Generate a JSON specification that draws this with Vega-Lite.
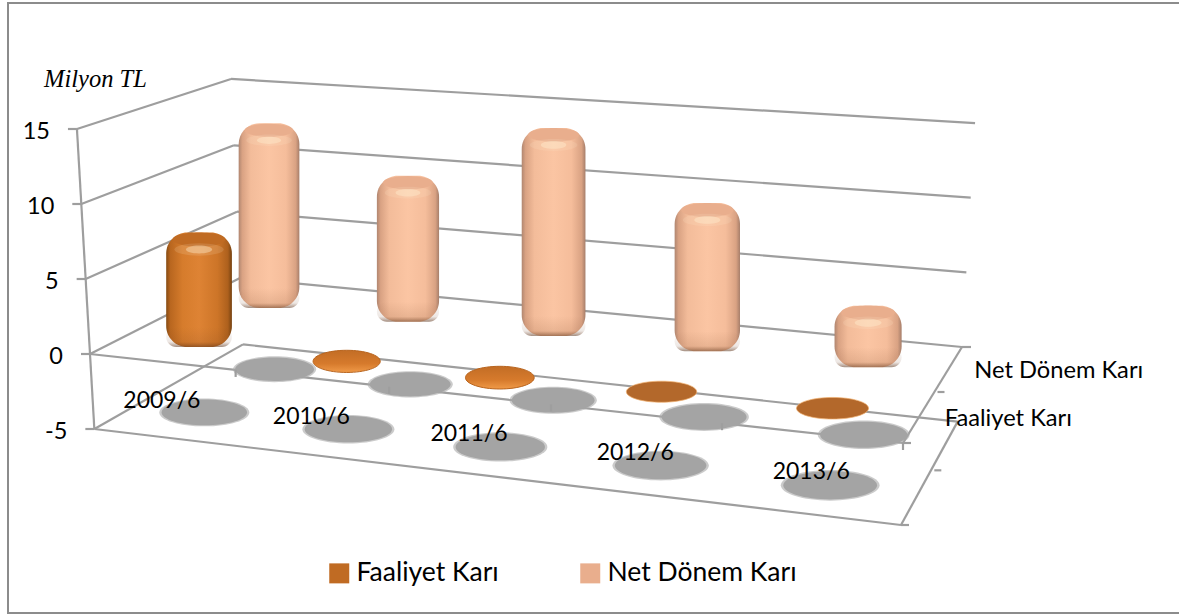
{
"$schema":"https://vega.github.io/schema/vega-lite/v6.json",
"width":1172,"height":610,
"padding":{"left":8,"top":3,"right":-1,"bottom":1},
"autosize":{"type":"none"},
"background":"white",
"view":{"stroke":"#8c8c8c","strokeWidth":2,"fill":"white"},
"title":{"text":"Milyon TL","anchor":"start","frame":"group","orient":"top","offset":-89,"dx":36,"font":"Liberation Serif","fontStyle":"italic","fontWeight":"normal","fontSize":24.5,"color":"#000000"},
"datasets":{
"bars":[
{"period":"2009/6","series":"Faaliyet Karı","value":6.8},
{"period":"2010/6","series":"Faaliyet Karı","value":0.0},
{"period":"2011/6","series":"Faaliyet Karı","value":0.0},
{"period":"2012/6","series":"Faaliyet Karı","value":0.2},
{"period":"2013/6","series":"Faaliyet Karı","value":0.3},
{"period":"2009/6","series":"Net Dönem Karı","value":12.3},
{"period":"2010/6","series":"Net Dönem Karı","value":9.3},
{"period":"2011/6","series":"Net Dönem Karı","value":13.4},
{"period":"2012/6","series":"Net Dönem Karı","value":9.05},
{"period":"2013/6","series":"Net Dönem Karı","value":3.1}
],
"levels":[{"level":15},{"level":10},{"level":5},{"level":0},{"level":-5}]
},
"encoding":{
"x":{"field":"X","type":"quantitative","scale":{"domain":[8,1180]},"axis":null},
"y":{"field":"Y","type":"quantitative","scale":{"domain":[613,3]},"axis":null}
},
"layer":[
{"data":{"name":"levels"},
"layer":[
{"transform":[{"calculate":"90-0.87*datum.level","as":"X"},{"calculate":"354-15*datum.level","as":"Y"},{"calculate":"240-0.6*datum.level","as":"X2"},{"calculate":"278-13.27*datum.level","as":"Y2"}],
"mark":{"type":"rule","stroke":"#9e9e9e","strokeWidth":2.2},"encoding":{"x2":{"field":"X2"},"y2":{"field":"Y2"}}},
{"transform":[{"calculate":"240-0.6*datum.level","as":"X"},{"calculate":"278-13.27*datum.level","as":"Y"},{"calculate":"962+0.87*datum.level","as":"X2"},{"calculate":"347-14.93*datum.level","as":"Y2"}],
"mark":{"type":"rule","stroke":"#9e9e9e","strokeWidth":2.2},"encoding":{"x2":{"field":"X2"},"y2":{"field":"Y2"}}},
{"transform":[{"filter":"datum.level<15"},{"calculate":"90-0.87*datum.level","as":"X"},{"calculate":"354-15*datum.level","as":"Y"},{"calculate":"90-0.87*(datum.level+5)","as":"X2"},{"calculate":"354-15*(datum.level+5)","as":"Y2"}],
"mark":{"type":"rule","stroke":"#9e9e9e","strokeWidth":2.2},"encoding":{"x2":{"field":"X2"},"y2":{"field":"Y2"}}},
{"transform":[{"filter":"datum.level<=0"},{"calculate":"90-0.87*datum.level","as":"X"},{"calculate":"354-15*datum.level","as":"Y"},{"calculate":"903+0.4*datum.level","as":"X2"},{"calculate":"443-16.4*datum.level","as":"Y2"}],
"mark":{"type":"rule","stroke":"#9e9e9e","strokeWidth":2.2},"encoding":{"x2":{"field":"X2"},"y2":{"field":"Y2"}}},
{"transform":[{"filter":"datum.level<=0"},{"calculate":"903+0.4*datum.level","as":"X"},{"calculate":"443-16.4*datum.level","as":"Y"},{"calculate":"962+0.87*datum.level","as":"X2"},{"calculate":"347-14.93*datum.level","as":"Y2"}],
"mark":{"type":"rule","stroke":"#9e9e9e","strokeWidth":2.2},"encoding":{"x2":{"field":"X2"},"y2":{"field":"Y2"}}},
{"transform":[{"calculate":"90-0.87*datum.level","as":"X"},{"calculate":"354-15*datum.level","as":"Y"},{"calculate":"datum.X-9","as":"X2"},{"calculate":"datum.Y","as":"Y2"}],
"mark":{"type":"rule","stroke":"#9e9e9e","strokeWidth":2.2},"encoding":{"x2":{"field":"X2"},"y2":{"field":"Y2"}}},
{"transform":[{"filter":"datum.level<=0"},{"calculate":"903+0.4*datum.level","as":"X"},{"calculate":"443-16.4*datum.level","as":"Y"},{"calculate":"datum.X+8","as":"X2"},{"calculate":"datum.Y","as":"Y2"}],
"mark":{"type":"rule","stroke":"#9e9e9e","strokeWidth":2.2},"encoding":{"x2":{"field":"X2"},"y2":{"field":"Y2"}}},
{"transform":[{"filter":"datum.level<=0"},{"calculate":"(903+962)/2+(0.4+0.87)/2*datum.level+5","as":"X"},{"calculate":"(443+347)/2-(16.4+14.93)/2*datum.level-3","as":"Y"},{"calculate":"datum.X+7","as":"X2"},{"calculate":"datum.Y","as":"Y2"}],
"mark":{"type":"rule","stroke":"#9e9e9e","strokeWidth":2.2},"encoding":{"x2":{"field":"X2"},"y2":{"field":"Y2"}}},
{"transform":[{"filter":"datum.level==0"},{"calculate":"962","as":"X"},{"calculate":"347","as":"Y"},{"calculate":"971","as":"X2"},{"calculate":"347","as":"Y2"}],
"mark":{"type":"rule","stroke":"#9e9e9e","strokeWidth":2.2},"encoding":{"x2":{"field":"X2"},"y2":{"field":"Y2"}}}
]},
{"data":{"name":"bars"},
"transform":[
{"calculate":"indexof(['2009/6','2010/6','2011/6','2012/6','2013/6'],datum.period)","as":"i"},
{"calculate":"(datum.i+0.5)/5","as":"t"},
{"calculate":"datum.t*0.873/(1-0.127*datum.t)","as":"p"},
{"calculate":"datum.series==='Net Dönem Karı'?0.75:0.25","as":"d"},
{"calculate":"(1-datum.d)*((1-datum.p)*90+datum.p*903)+datum.d*((1-datum.p)*240+datum.p*962)","as":"x0"},
{"calculate":"(1-datum.d)*((1-datum.p)*-0.87+datum.p*0.4)+datum.d*((1-datum.p)*-0.6+datum.p*0.87)","as":"xs"},
{"calculate":"(1-datum.d)*((1-datum.p)*354+datum.p*443)+datum.d*((1-datum.p)*278+datum.p*347)","as":"y0"},
{"calculate":"(1-datum.d)*((1-datum.p)*-15+datum.p*-16.4)+datum.d*((1-datum.p)*-13.27+datum.p*-14.93)","as":"ys"},
{"calculate":"60+8*datum.p+10*(0.75-datum.d)","as":"w"},
{"calculate":"datum.x0+4+datum.xs*datum.value/2","as":"cx"},
{"calculate":"datum.y0+datum.ys*datum.value-10","as":"top"},
{"calculate":"datum.y0+4.5","as":"bot"}
],
"layer":[
{"transform":[{"calculate":"datum.x0+3.5-5*datum.xs","as":"X"},{"calculate":"datum.y0-5*datum.ys-3.5","as":"Y"},{"calculate":"pow(datum.w*1.37,2)","as":"sz"}],
"mark":{"type":"point","filled":true,"strokeWidth":0,"opacity":0.6,"fill":"#a8a8a8","shape":"M-1,0A1,0.31 0 1,1 1,0A1,0.31 0 1,1 -1,0Z"},
"encoding":{"size":{"field":"sz","type":"quantitative","scale":null}}},
{"transform":[{"calculate":"datum.x0+3.5-5*datum.xs","as":"X"},{"calculate":"datum.y0-5*datum.ys-3.5","as":"Y"},{"calculate":"pow(datum.w*1.3,2)","as":"sz"}],
"mark":{"type":"point","filled":true,"strokeWidth":0,"opacity":1,"fill":"#a4a4a4","shape":"M-1,0A1,0.3 0 1,1 1,0A1,0.3 0 1,1 -1,0Z"},
"encoding":{"size":{"field":"sz","type":"quantitative","scale":null}}},
{"transform":[{"filter":"datum.value>=1&&datum.series==='Net Dönem Karı'"},{"calculate":"datum.cx-datum.w/2","as":"X"},{"calculate":"datum.cx+datum.w/2","as":"X2"},{"calculate":"datum.top","as":"Y"},{"calculate":"datum.bot","as":"Y2"}],
"mark":{"type":"rect","cornerRadius":21,"fill":{"gradient":"linear","x1":0,"y1":0,"x2":1,"y2":0,"stops":[{"offset":0,"color":"#b08670"},{"offset":0.06,"color":"#d9a283"},{"offset":0.2,"color":"#f3bc9a"},{"offset":0.5,"color":"#fbc5a3"},{"offset":0.78,"color":"#f5bd9b"},{"offset":0.94,"color":"#d9a283"},{"offset":1,"color":"#a67e6a"}]}},
"encoding":{"x2":{"field":"X2"},"y2":{"field":"Y2"}}},
{"transform":[{"filter":"datum.value>=1&&datum.series==='Faaliyet Karı'"},{"calculate":"datum.cx-datum.w/2","as":"X"},{"calculate":"datum.cx+datum.w/2","as":"X2"},{"calculate":"datum.top","as":"Y"},{"calculate":"datum.bot","as":"Y2"}],
"mark":{"type":"rect","cornerRadius":21,"fill":{"gradient":"linear","x1":0,"y1":0,"x2":1,"y2":0,"stops":[{"offset":0,"color":"#854a12"},{"offset":0.06,"color":"#b8661f"},{"offset":0.25,"color":"#d67c2c"},{"offset":0.5,"color":"#de8334"},{"offset":0.78,"color":"#cd7528"},{"offset":0.94,"color":"#ad601d"},{"offset":1,"color":"#754110"}]}},
"encoding":{"x2":{"field":"X2"},"y2":{"field":"Y2"}}},
{"transform":[{"filter":"datum.value>=1"},{"calculate":"datum.cx-datum.w/2","as":"X"},{"calculate":"datum.cx+datum.w/2","as":"X2"},{"calculate":"datum.bot-20","as":"Y"},{"calculate":"datum.bot","as":"Y2"}],
"mark":{"type":"rect","cornerRadius":20,"fill":{"gradient":"linear","x1":0,"y1":0,"x2":0,"y2":1,"stops":[{"offset":0,"color":"rgba(110,60,30,0)"},{"offset":0.75,"color":"rgba(110,60,30,0.12)"},{"offset":1,"color":"rgba(90,50,25,0.55)"}]}},
"encoding":{"x2":{"field":"X2"},"y2":{"field":"Y2"}}},
{"transform":[{"filter":"datum.value>=1"},{"calculate":"datum.cx","as":"X"},{"calculate":"datum.top+7","as":"Y"},{"calculate":"pow(datum.w*0.8,2)","as":"sz"}],
"mark":{"type":"point","filled":true,"strokeWidth":0,"opacity":1,"shape":"M-1,0A1,0.27 0 1,1 1,0A1,0.27 0 1,1 -1,0Z"},
"encoding":{"size":{"field":"sz","type":"quantitative","scale":null},
"color":{"field":"series","type":"nominal","scale":{"domain":["Faaliyet Karı","Net Dönem Karı"],"range":["#c06b23","#e9ae8d"]},
"legend":{"orient":"none","legendX":318,"legendY":557,"direction":"horizontal","title":null,"symbolType":"square","symbolSize":400,"symbolStrokeWidth":0,"labelFont":"Lato","labelFontSize":26.5,"labelLimit":300,"labelColor":"#000000","labelOffset":4,"columnPadding":78,"rowPadding":0}}}},
{"transform":[{"filter":"datum.value>=1"},{"calculate":"datum.cx","as":"X"},{"calculate":"datum.top+17","as":"Y"},{"calculate":"pow(datum.w*0.75,2)","as":"sz"}],
"mark":{"type":"point","filled":true,"strokeWidth":0,"opacity":0.14,"fill":"#fff0d2","shape":"M-1,0A1,0.25 0 1,1 1,0A1,0.25 0 1,1 -1,0Z"},
"encoding":{"size":{"field":"sz","type":"quantitative","scale":null}}},
{"transform":[{"filter":"datum.value>=1"},{"calculate":"datum.cx","as":"X"},{"calculate":"datum.top+17","as":"Y"},{"calculate":"pow(datum.w*0.4,2)","as":"sz"}],
"mark":{"type":"point","filled":true,"strokeWidth":0,"opacity":0.4,"fill":"#fff0d2","shape":"M-1,0A1,0.3 0 1,1 1,0A1,0.3 0 1,1 -1,0Z"},
"encoding":{"size":{"field":"sz","type":"quantitative","scale":null}}},
{"transform":[{"filter":"datum.value<0.1"},{"calculate":"datum.x0+4","as":"X"},{"calculate":"datum.y0+datum.ys*datum.value+3.5","as":"Y"},{"calculate":"pow(datum.w,2)","as":"sz"}],
"mark":{"type":"point","filled":true,"stroke":"#b8641e","strokeWidth":1,"opacity":1,"shape":"M-1,0A1,0.33 0 1,1 1,0A1,0.33 0 1,1 -1,0Z","fill":{"gradient":"linear","x1":0,"y1":0,"x2":0,"y2":1,"stops":[{"offset":0,"color":"#c26d25"},{"offset":0.6,"color":"#d67a2c"},{"offset":1,"color":"#f09a48"}]}},
"encoding":{"size":{"field":"sz","type":"quantitative","scale":null}}},
{"transform":[{"filter":"datum.value>=0.1&&datum.value<1"},{"calculate":"datum.x0+4","as":"X"},{"calculate":"datum.y0+datum.ys*datum.value+3.5","as":"Y"},{"calculate":"pow(datum.w,2)","as":"sz"}],
"mark":{"type":"point","filled":true,"stroke":"#f0b070","strokeWidth":0.7,"opacity":1,"fill":"#b3682b","shape":"M-1,0A1,0.3 0 1,1 1,0A1,0.3 0 1,1 -1,0Z"},
"encoding":{"size":{"field":"sz","type":"quantitative","scale":null}}},
{"transform":[{"filter":"datum.series==='Faaliyet Karı'"},{"calculate":"(datum.i+1)/5","as":"t2"},{"calculate":"datum.t2*0.873/(1-0.127*datum.t2)","as":"p2"},{"calculate":"90+813*datum.p2","as":"X"},{"calculate":"354+89*datum.p2","as":"Y"},{"calculate":"datum.X","as":"X2"},{"calculate":"datum.Y+7","as":"Y2"}],
"mark":{"type":"rule","stroke":"#9e9e9e","strokeWidth":2.2},"encoding":{"x2":{"field":"X2"},"y2":{"field":"Y2"}}},
{"transform":[{"filter":"datum.series==='Faaliyet Karı'"},{"calculate":"90+813*datum.p","as":"X"},{"calculate":"354+89*datum.p+39","as":"Y"}],
"mark":{"type":"text","font":"Lato","fontSize":23,"fill":"#000000","align":"center","baseline":"middle"},
"encoding":{"text":{"field":"period","type":"nominal"}}}
]},
{"data":{"name":"levels"},
"transform":[{"calculate":"90-0.87*datum.level-27","as":"X"},{"calculate":"354-15*datum.level+3","as":"Y"},{"calculate":"''+datum.level","as":"label"}],
"mark":{"type":"text","font":"Lato","fontSize":23.5,"fill":"#000000","align":"right","baseline":"middle"},
"encoding":{"text":{"field":"label","type":"nominal"}}},
{"data":{"values":[{"s":"Net Dönem Karı","d":0.75},{"s":"Faaliyet Karı","d":0.25}]},
"transform":[{"calculate":"903+59*datum.d+27","as":"X"},{"calculate":"443-96*datum.d","as":"Y"}],
"mark":{"type":"text","font":"Lato","fontSize":23.7,"fill":"#000000","align":"left","baseline":"middle"},
"encoding":{"text":{"field":"s","type":"nominal"}}}
],
"config":{"style":{"guide-label":{"font":"Lato"}}}
}
